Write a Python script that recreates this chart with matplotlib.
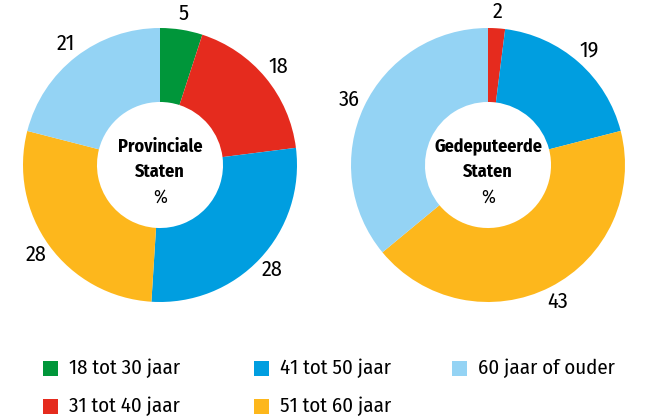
import numpy as np
import matplotlib
matplotlib.use("Agg")
import matplotlib.pyplot as plt
from matplotlib.patches import Rectangle

plt.rcParams['font.family'] = ['Fira Sans Condensed', 'DejaVu Sans']

categories = ["18 tot 30 jaar", "31 tot 40 jaar", "41 tot 50 jaar",
              "51 tot 60 jaar", "60 jaar of ouder"]
colors = ["#00963a", "#e52b1e", "#009ee0", "#fdb71c", "#94d3f4"]

provinciale_staten = [5, 18, 28, 28, 21]
gedeputeerde_staten = [0, 2, 19, 43, 36]

W, H = 668, 419
fig = plt.figure(figsize=(W / 100, H / 100), dpi=100)


def donut(cx, cy, r, values, title):
    ax = fig.add_axes([(cx - r) / W, (H - cy - r) / H, 2 * r / W, 2 * r / H])
    wedges, _ = ax.pie(values, colors=colors, startangle=90, counterclock=False,
                       radius=1.0, wedgeprops=dict(width=0.54, linewidth=0))
    ax.set_xlim(-1, 1)
    ax.set_ylim(-1, 1)
    ax.set_aspect('equal')
    ax.axis('off')
    for w, v in zip(wedges, values):
        if v == 0:
            continue
        ang = np.deg2rad((w.theta1 + w.theta2) / 2)
        ax.text(1.12 * np.cos(ang), 1.12 * np.sin(ang), str(v),
                ha='center', va='center', fontsize=16, clip_on=False)
    top, bottom = title.split("\n")
    ax.text(0, 0.131, top, ha='center', va='center', fontsize=13,
            fontweight='bold')
    ax.text(0, -0.051, bottom, ha='center', va='center', fontsize=13,
            fontweight='bold')
    ax.text(0, -0.234, "%", ha='center', va='center', fontsize=13.5)


donut(160, 165, 137, provinciale_staten, "Provinciale\nStaten")
donut(488, 165, 137, gedeputeerde_staten, "Gedeputeerde\nStaten")

# legend: three columns, filled top to bottom
col_x = [43, 254, 452]
row_y = [368.5, 406.5]
sq = 15
for i, (cat, c) in enumerate(zip(categories, colors)):
    x, y = col_x[i // 2], row_y[i % 2]
    fig.add_artist(Rectangle((x / W, (H - y - sq / 2) / H), sq / W, sq / H,
                             transform=fig.transFigure, facecolor=c,
                             edgecolor='none'))
    fig.text((x + sq + 11) / W, (H - y) / H, cat, ha='left', va='center',
             fontsize=15)

fig.savefig("out.png", dpi=100)
